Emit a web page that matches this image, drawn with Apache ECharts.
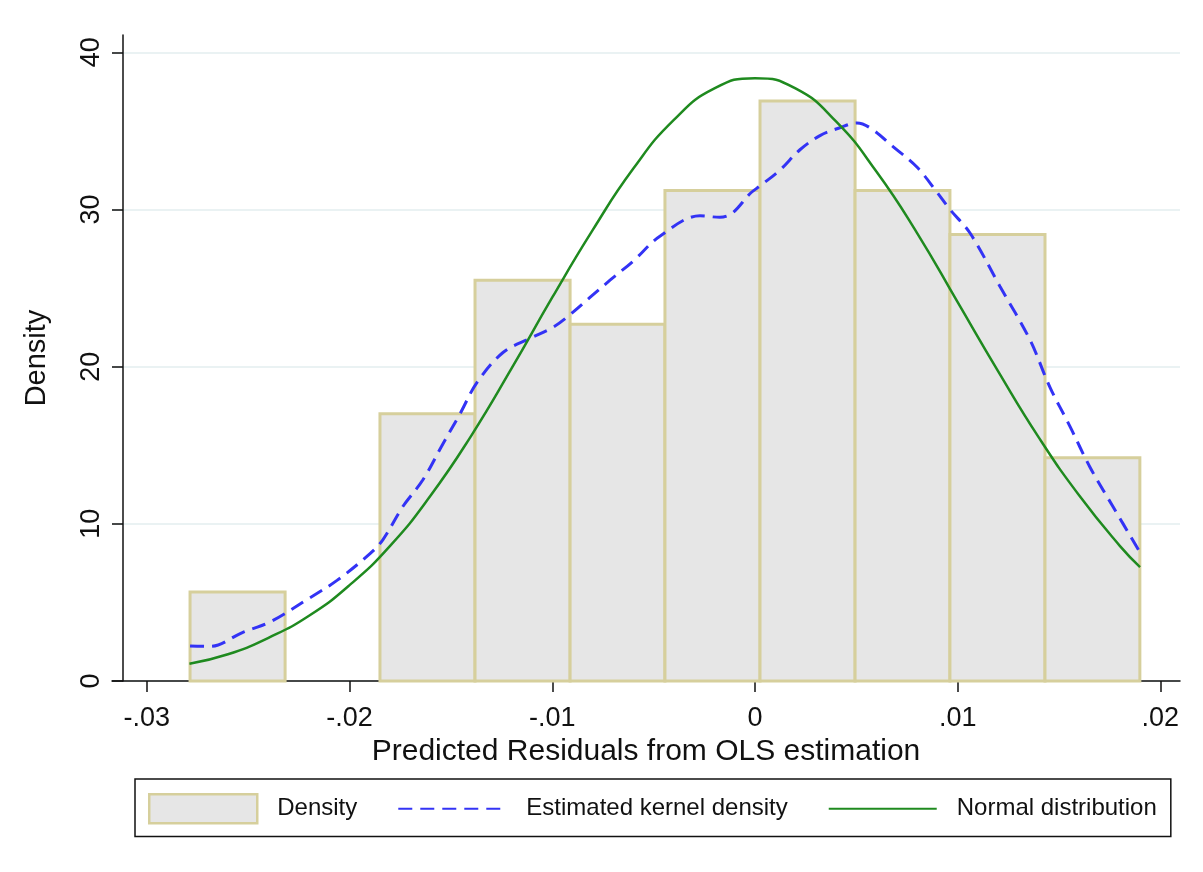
<!DOCTYPE html>
<html>
<head>
<meta charset="utf-8">
<script src="https://cdn.jsdelivr.net/npm/echarts@6/dist/echarts.min.js"></script>
<style>
html,body{margin:0;padding:0;background:#fff;}
#chart{width:1203px;height:872px;}
</style>
</head>
<body>
<div id="chart"></div>
<script>
// Histogram bin edges and densities
const binEdges = [-0.02787, -0.02318, -0.01850, -0.01381, -0.00912, -0.00444, 0.00025, 0.00494, 0.00962, 0.01431, 0.01899];
const binDensity = [5.67, 0, 17.0, 25.5, 22.7, 31.2, 36.9, 31.2, 28.4, 14.2];

// Estimated kernel density (x, density)
const kernelX = [-0.02787, -0.02689, -0.02526, -0.02393, -0.02195, -0.02062, -0.01899, -0.01835, -0.01737, -0.01638,
  -0.01539, -0.01455, -0.01371, -0.01243, -0.01110, -0.00997, -0.00913, -0.00814, -0.00715, -0.00602,
  -0.00469, -0.00271, -0.00173, -0.00109, -0.00025, 0.00025, 0.00123, 0.00222, 0.00321, 0.00419,
  0.00503, 0.00567, 0.00681, 0.00799, 0.00898, 0.00962, 0.01061, 0.01209, 0.01357, 0.01455,
  0.01554, 0.01653, 0.01766, 0.01899];
const kernelY = [2.23, 2.2, 3.1, 3.75, 5.3, 6.4, 8.1, 9.0, 11.1, 12.8,
  15.1, 17.0, 19.0, 20.9, 21.8, 22.5, 23.3, 24.4, 25.5, 26.7,
  28.3, 29.6, 29.5, 29.8, 31.0, 31.5, 32.5, 33.8, 34.7, 35.2,
  35.5, 35.2, 34.0, 32.7, 31.1, 30.0, 28.5, 25.1, 21.7, 18.7,
  16.2, 13.6, 11.1, 8.2];

// Normal distribution curve (x, density)
const normalX = [-0.0279, -0.026, -0.024, -0.022, -0.020, -0.018, -0.016, -0.014, -0.012, -0.010, -0.008, -0.006, -0.004, -0.002,
  0, 0.002, 0.004, 0.006, 0.008, 0.010, 0.012, 0.014, 0.016, 0.018, 0.019];
const normalY = [1.1, 1.7, 2.75, 4.15, 6.1, 8.6, 11.8, 15.6, 19.9, 24.4, 28.7, 32.6, 35.7, 37.7,
  38.35, 37.7, 35.6, 32.4, 28.5, 24.1, 19.7, 15.5, 11.8, 8.6, 7.25];

// Axis ticks and labels
const xTicks = [-0.03, -0.02, -0.01, 0, 0.01, 0.02];
const xTickLabels = ['-.03', '-.02', '-.01', '0', '.01', '.02'];
const yTicks = [0, 10, 20, 30, 40];

const FONT = '"Liberation Sans", Arial, sans-serif';

const histData = [];
for (let i = 0; i < binDensity.length; i++) {
  if (binDensity[i] > 0) histData.push([binEdges[i], binEdges[i + 1], binDensity[i]]);
}
const kernelData = kernelX.map((x, i) => [x, kernelY[i]]);
const normalData = normalX.map((x, i) => [x, normalY[i]]);

const chart = echarts.init(document.getElementById('chart'), null, {renderer: 'canvas'});
chart.setOption({
  backgroundColor: '#ffffff',
  animation: false,
  grid: {left: 112, right: 23, top: 35, bottom: 191},
  xAxis: {
    type: 'value',
    min: -0.03172,
    max: 0.02097,
    name: 'Predicted Residuals from OLS estimation',
    nameLocation: 'middle',
    nameGap: 50,
    nameTextStyle: {fontFamily: FONT, fontSize: 30, color: '#111'},
    axisLine: {onZero: false, lineStyle: {color: '#111', width: 1.5}},
    axisTick: {show: true, length: 11, lineStyle: {color: '#111', width: 1.5}, customValues: xTicks},
    axisLabel: {
      customValues: xTicks,
      margin: 24,
      fontFamily: FONT, fontSize: 27, color: '#111',
      formatter: function (v) {
        for (let i = 0; i < xTicks.length; i++) if (Math.abs(xTicks[i] - v) < 1e-9) return xTickLabels[i];
        return '';
      }
    },
    splitLine: {show: false}
  },
  yAxis: {
    type: 'value',
    min: 0,
    max: 41.1,
    offset: -11,
    name: 'Density',
    nameLocation: 'middle',
    nameRotate: 90,
    nameGap: 72,
    nameTextStyle: {fontFamily: FONT, fontSize: 29, color: '#111'},
    axisLine: {show: true, onZero: false, lineStyle: {color: '#111', width: 1.5}},
    axisTick: {show: true, length: 11, lineStyle: {color: '#111', width: 1.5}, customValues: yTicks},
    axisLabel: {customValues: yTicks, rotate: 90, margin: 18, fontFamily: FONT, fontSize: 27, color: '#111'},
    splitLine: {show: true, lineStyle: {color: '#eaf2f3', width: 2}}
  },
  legend: {
    left: 135,
    top: 779,
    orient: 'horizontal',
    padding: [14, 14, 12, 13],
    itemGap: 40,
    itemWidth: 108,
    itemHeight: 29,
    borderColor: '#111',
    borderWidth: 1.5,
    borderRadius: 0,
    textStyle: {fontFamily: FONT, fontSize: 24, color: '#111', padding: [0, 0, 0, 15]},
    data: [
      {name: 'Density', icon: 'rect', itemStyle: {color: '#e6e6e6', borderColor: '#d6cf9c', borderWidth: 2.5}},
      {name: 'Estimated kernel density', itemStyle: {opacity: 0}},
      {name: 'Normal distribution', itemStyle: {opacity: 0}}
    ]
  },
  series: [
    {
      name: 'Density',
      type: 'custom',
      z: 1,
      itemStyle: {color: '#e6e6e6', borderColor: '#d6cf9c', borderWidth: 2.5},
      encode: {x: [0, 1], y: 2},
      data: histData,
      renderItem: function (params, api) {
        const p0 = api.coord([api.value(0), 0]);
        const p1 = api.coord([api.value(1), api.value(2)]);
        return {
          type: 'rect',
          shape: {x: p0[0], y: p1[1], width: p1[0] - p0[0], height: p0[1] - p1[1]},
          style: {fill: '#e6e6e6', stroke: '#d6cf9c', lineWidth: 3}
        };
      }
    },
    {
      name: 'Estimated kernel density',
      type: 'line',
      z: 3,
      data: kernelData,
      smooth: 0.35,
      showSymbol: false,
      symbol: 'none',
      lineStyle: {color: '#3333f5', width: 3, type: [14, 8]},
      itemStyle: {color: '#3333f5'}
    },
    {
      name: 'Normal distribution',
      type: 'line',
      z: 4,
      data: normalData,
      smooth: true,
      showSymbol: false,
      symbol: 'none',
      lineStyle: {color: '#1f8a1f', width: 2.5},
      itemStyle: {color: '#1f8a1f'}
    }
  ]
});
</script>
</body>
</html>
